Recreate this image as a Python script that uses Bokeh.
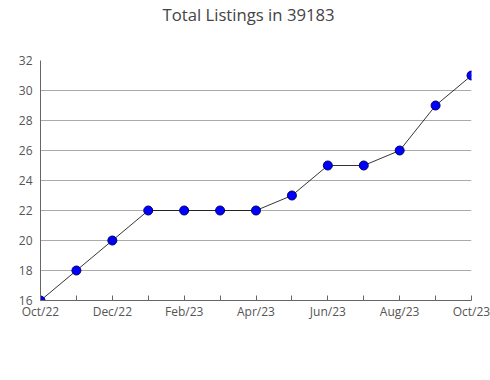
from bokeh.plotting import figure
from bokeh.models import FixedTicker, ColumnDataSource, Range1d, Title
from bokeh.embed import file_html
from bokeh.resources import INLINE

months = ["Oct/22", "Nov/22", "Dec/22", "Jan/23", "Feb/23", "Mar/23", "Apr/23",
          "May/23", "Jun/23", "Jul/23", "Aug/23", "Sep/23", "Oct/23"]
listings = [16, 18, 20, 22, 22, 22, 22, 23, 25, 25, 26, 29, 31]
y_ticks = [16, 18, 20, 22, 24, 26, 28, 30, 32]
shown_labels = ["Oct/22", "Dec/22", "Feb/23", "Apr/23", "Jun/23", "Aug/23", "Oct/23"]
title_text = "Total Listings in 39183"

xs = list(range(len(months)))
src = ColumnDataSource(dict(x=xs, y=listings))

FONT = "Open Sans"
p = figure(width=490, height=380, output_backend="svg", toolbar_location=None, title=None,
           x_range=Range1d(0, len(months) - 1), y_range=Range1d(16, 32),
           min_border_left=40, min_border_right=19, min_border_top=0, min_border_bottom=80)
p.outline_line_color = None

# spacer (nearest the frame), then the real title above it
p.add_layout(Title(text=" ", text_font_size="10px", standoff=22, text_color="white"), "above")
p.add_layout(Title(text=title_text, align="left", offset=122, standoff=0,
                   text_font=FONT, text_font_size="16.7px", text_font_style="normal",
                   text_color="#444444"), "above")

p.line("x", "y", source=src, line_color="black", line_width=0.8)
p.scatter("x", "y", source=src, size=9, fill_color="#0000ff", line_color="#000066", line_width=1)

p.xaxis.ticker = FixedTicker(ticks=xs)
p.xaxis.major_label_overrides = {i: (m if m in shown_labels else "") for i, m in enumerate(months)}
p.xaxis.major_tick_in = 5
p.xaxis.major_tick_out = 0
p.xaxis.major_label_standoff = 2

p.yaxis.ticker = FixedTicker(ticks=y_ticks, minor_ticks=list(range(16, 33)))
p.yaxis.major_tick_in = 0
p.yaxis.major_tick_out = 0
p.yaxis.minor_tick_in = 4
p.yaxis.minor_tick_out = 0
p.yaxis.major_label_standoff = 8

for ax in (p.xaxis, p.yaxis):
    ax.axis_line_color = "#666666"
    ax.major_tick_line_color = "#666666"
    ax.minor_tick_line_color = "#666666" if ax is p.yaxis else None
    ax.major_label_text_font = FONT
    ax.major_label_text_font_size = "12px"
    ax.major_label_text_color = "#555555"

p.xgrid.grid_line_color = None
p.ygrid.grid_line_color = "#aaaaaa"
p.ygrid.grid_line_width = 1

open("out.html", "w").write(file_html(p, INLINE))
